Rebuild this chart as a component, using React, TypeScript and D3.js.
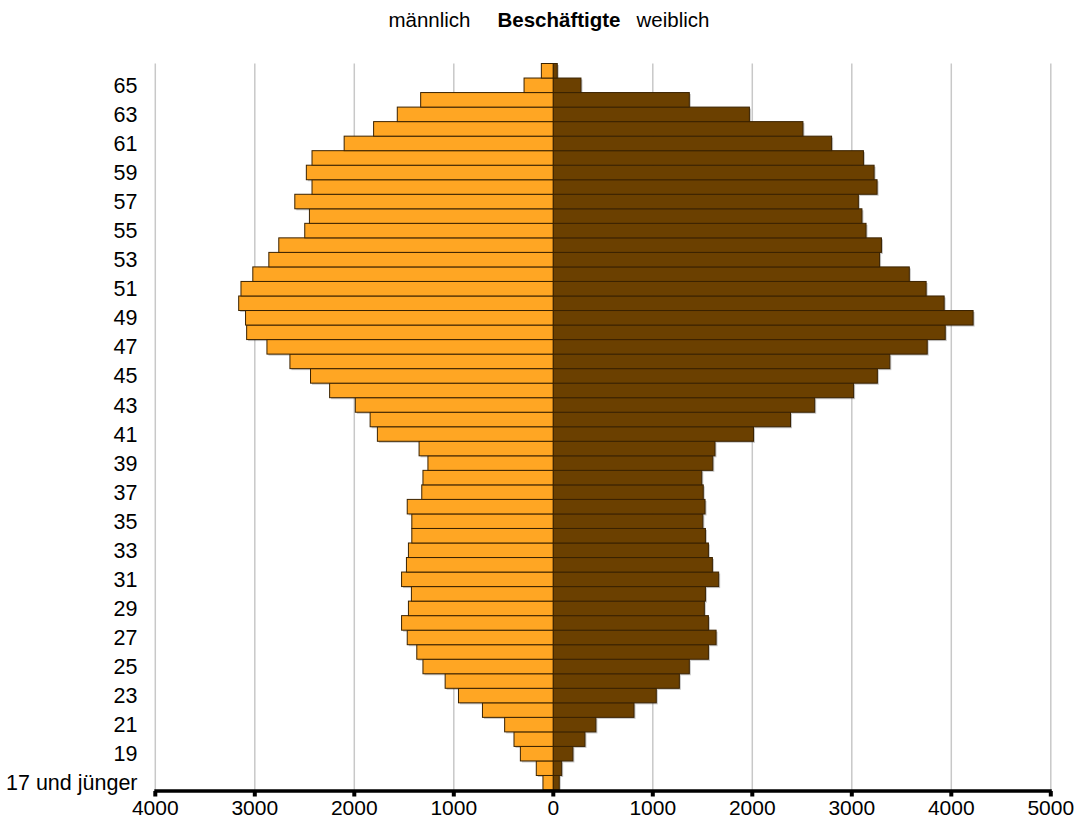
import React from 'react';
import * as d3 from 'd3';

const ageGroups = [
  '17 und jünger', '18', '19', '20', '21', '22', '23', '24', '25', '26',
  '27', '28', '29', '30', '31', '32', '33', '34', '35', '36',
  '37', '38', '39', '40', '41', '42', '43', '44', '45', '46',
  '47', '48', '49', '50', '51', '52', '53', '54', '55', '56',
  '57', '58', '59', '60', '61', '62', '63', '64', '65', '66',
];

const male = [
  104, 171, 331, 395, 489, 712, 953, 1087, 1310, 1372,
  1468, 1525, 1456, 1426, 1525, 1476, 1456, 1422, 1422, 1468,
  1322, 1310, 1260, 1349, 1768, 1841, 1990, 2248, 2440, 2647,
  2878, 3082, 3093, 3162, 3139, 3020, 2859, 2759, 2498, 2451,
  2598, 2425, 2482, 2425, 2102, 1806, 1568, 1333, 294, 120,
];

const female = [
  60, 84, 197, 318, 428, 811, 1035, 1267, 1367, 1559,
  1636, 1559, 1518, 1529, 1662, 1599, 1559, 1529, 1503, 1525,
  1507, 1492, 1603, 1625, 2012, 2384, 2627, 3018, 3257, 3382,
  3758, 3939, 4219, 3928, 3747, 3578, 3279, 3298, 3143, 3102,
  3066, 3254, 3224, 3117, 2797, 2509, 1971, 1367, 278, 40,
];

const xTicks = [-4000, -3000, -2000, -1000, 0, 1000, 2000, 3000, 4000, 5000];

const titleLeft = 'männlich';
const titleMain = 'Beschäftigte';
const titleRight = 'weiblich';

const FONT = "'Liberation Sans', Arial, Helvetica, sans-serif";

export default function App() {
  const W = 1075;
  const H = 827;
  const plotTop = 63.5;
  const plotBottom = 790;

  const x = d3.scaleLinear().domain([-4000, 5000]).range([155.3, 1050.8]);
  const y = d3
    .scaleBand<string>()
    .domain([...ageGroups].reverse())
    .range([plotTop, plotBottom])
    .padding(0);
  const bw = y.bandwidth();
  const x0 = x(0);

  const maleColor = '#FFA623';
  const femaleColor = '#6B4000';
  const strokeColor = '#3A2200';

  return (
    <svg
      width={W}
      height={H}
      viewBox={`0 0 ${W} ${H}`}
      style={{ position: 'absolute', left: 0, top: 0, background: '#fff' }}
      fontFamily={FONT}
    >
      <rect x={0} y={0} width={W} height={H} fill="#fff" />
      {/* title */}
      <g fontSize={20.5} fill="#000">
        <text x={429.5} y={26.5} textAnchor="middle">{titleLeft}</text>
        <text x={559} y={26.5} textAnchor="middle" fontWeight="bold">{titleMain}</text>
        <text x={673} y={26.5} textAnchor="middle">{titleRight}</text>
      </g>

      {/* grid lines */}
      <g>
        {xTicks.map((t) => (
          <line
            key={'g' + t}
            x1={x(t)}
            x2={x(t)}
            y1={plotTop}
            y2={plotBottom}
            stroke="#c8c8c8"
            strokeWidth={1.5}
          />
        ))}
      </g>

      {/* shadows */}
      <g fill="#000" opacity={0.22}>
        {ageGroups.map((a, i) => (
          <React.Fragment key={'s' + a}>
            <rect
              x={x(-male[i]) + 1.5}
              y={(y(a) as number) + 1.5}
              width={x0 - x(-male[i])}
              height={bw}
            />
            <rect
              x={x0 + 1.5}
              y={(y(a) as number) + 1.5}
              width={x(female[i]) - x0}
              height={bw}
            />
          </React.Fragment>
        ))}
      </g>

      {/* bars */}
      <g stroke={strokeColor} strokeWidth={1}>
        {ageGroups.map((a, i) => (
          <rect
            key={'m' + a}
            x={x(-male[i])}
            y={y(a) as number}
            width={x0 - x(-male[i])}
            height={bw}
            fill={maleColor}
          />
        ))}
        {ageGroups.map((a, i) => (
          <rect
            key={'f' + a}
            x={x0}
            y={y(a) as number}
            width={x(female[i]) - x0}
            height={bw}
            fill={femaleColor}
          />
        ))}
      </g>

      {/* y labels */}
      <g fontSize={21.5} fill="#000" textAnchor="end">
        {ageGroups.map((a, i) =>
          i % 2 === 0 ? (
            <text key={'l' + a} x={137.5} y={(y(a) as number) + bw / 2 + 7.6}>
              {a}
            </text>
          ) : null
        )}
      </g>

      {/* x axis */}
      <line x1={x(-4000) - 1} x2={x(5000) + 1} y1={791} y2={791} stroke="#000" strokeWidth={3.5} />
      {xTicks.map((t) => (
        <rect key={'t' + t} x={x(t) - 2} y={791} width={4} height={5.5} fill="#000" />
      ))}
      <g fontSize={21} fill="#000" textAnchor="middle">
        {xTicks.map((t) => (
          <text key={'xl' + t} x={x(t)} y={815}>
            {Math.abs(t)}
          </text>
        ))}
      </g>
    </svg>
  );
}
